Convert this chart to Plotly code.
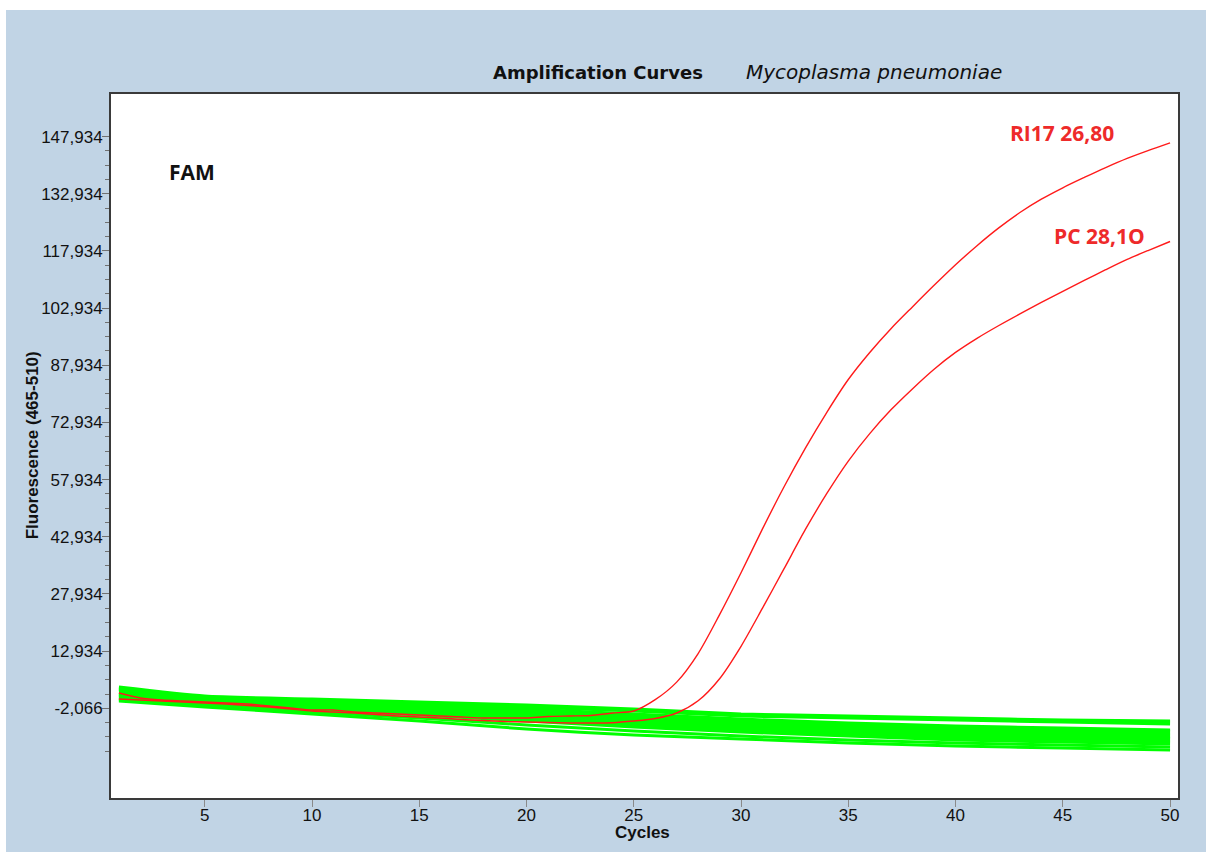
import plotly.graph_objects as go

# ---------------- data ----------------
cycles = list(range(1, 51))

ri17_values = [1950, 640, 110, -150, -410, -680, -940, -1460, -1990, -2510,
               -2510, -3040, -3300, -3560, -3820, -4090, -4350, -4610, -4610, -4610,
               -4220, -4090, -3960, -3300, -2770, 200, 4800, 12300, 22500, 33500,
               45000, 56000, 66200, 75600, 84200, 91300, 97600, 103300, 108900, 114300,
               119300, 123900, 128000, 131500, 134500, 137200, 139800, 142200, 144300, 146300]

pc_values = [370, 110, -150, -410, -680, -940, -1330, -1730, -2250, -2770,
             -3040, -3300, -3690, -4090, -4350, -4610, -5010, -5270, -5530, -5660,
             -5790, -5920, -5920, -5850, -5400, -4740, -3300, -100, 5700, 14200,
             24200, 34490, 44850, 54300, 62800, 70000, 76300, 81800, 86900, 91300,
             95000, 98300, 101400, 104400, 107300, 110200, 113000, 115700, 118100, 120400]

# negative samples (green), read at these cycles
neg_cycles = [1, 5, 10, 15, 20, 25, 30, 35, 40, 45, 50]
neg_g01 = [3520, 1160, 370, -410, -1200, -2250, -3560, -4090, -4610, -5140, -5400]
neg_g02 = [3260, 900, 110, -680, -1460, -2510, -3820, -4350, -4870, -5400, -5660]
neg_g03 = [3000, 900, 110, -940, -1730, -2770, -4090, -4610, -5140, -5660, -6190]
neg_g04 = [2740, 640, -150, -1200, -2250, -3560, -4870, -5920, -6710, -7240, -7760]
neg_g05 = [2210, 640, -410, -1460, -2510, -3820, -5140, -6190, -6970, -7500, -8020]
neg_g06 = [1950, 370, -680, -1730, -2770, -4090, -5400, -6450, -7240, -7760, -8290]
neg_g07 = [1690, 370, -940, -1990, -3300, -4610, -5920, -6970, -7760, -8290, -8810]
neg_g08 = [1420, 110, -1200, -2250, -3560, -4870, -6190, -7240, -8020, -8550, -9070]
neg_g09 = [1420, 110, -1200, -2510, -3820, -5140, -6450, -7500, -8290, -9070, -9600]
neg_g10 = [1160, -150, -1460, -2770, -4090, -5660, -6970, -8020, -8810, -9330, -9860]
neg_g11 = [900, -410, -1730, -3040, -4350, -5920, -7240, -8290, -9070, -9600, -10120]
neg_g12 = [640, -680, -1990, -3300, -4610, -6190, -7500, -8550, -9330, -10120, -10650]
neg_g13 = [370, -940, -2250, -3560, -4870, -6450, -7760, -8810, -9860, -10380, -10910]
neg_g14 = [370, -940, -2510, -3820, -5400, -6970, -8290, -9330, -10380, -10910, -11430]
neg_g15 = [110, -1460, -3040, -4610, -6450, -8020, -9330, -10380, -11170, -11700, -12220]
neg_g16 = [-150, -1730, -3560, -5400, -7500, -9070, -10120, -11170, -11960, -12480, -13010]
negatives = [neg_g01, neg_g02, neg_g03, neg_g04, neg_g05, neg_g06, neg_g07, neg_g08,
             neg_g09, neg_g10, neg_g11, neg_g12, neg_g13, neg_g14, neg_g15, neg_g16]

x_tick_values = [5, 10, 15, 20, 25, 30, 35, 40, 45, 50]
y_tick_values = [-2066, 12934, 27934, 42934, 57934, 72934, 87934, 102934, 117934, 132934, 147934]
y_tick_labels = ["-2,066", "12,934", "27,934", "42,934", "57,934", "72,934", "87,934",
                 "102,934", "117,934", "132,934", "147,934"]

# ---------------- figure ----------------
BLUE = "#C1D4E5"
fig = go.Figure()

for series in negatives:
    fig.add_trace(go.Scatter(x=neg_cycles, y=series, mode="lines",
                             line=dict(color="#00FF00", width=3, shape="spline", smoothing=0.6),
                             showlegend=False, hoverinfo="skip"))

fig.add_trace(go.Scatter(x=cycles, y=pc_values, mode="lines", name="PC",
                         line=dict(color="#FF1A1A", width=1.4, shape="spline", smoothing=0.8),
                         showlegend=False))
fig.add_trace(go.Scatter(x=cycles, y=ri17_values, mode="lines", name="RI17",
                         line=dict(color="#FF1A1A", width=1.4, shape="spline", smoothing=0.8),
                         showlegend=False))

step = (y_tick_values[1] - y_tick_values[0]) / 4
minor_vals = [y_tick_values[0] - k * step for k in (1, 2, 3)]
for tv in y_tick_values[:-1]:
    minor_vals += [tv + k * step for k in (1, 2, 3)]

fig.update_layout(
    width=1206, height=852, autosize=False,
    margin=dict(l=111, r=28, t=94, b=54),
    paper_bgcolor=BLUE, plot_bgcolor="white",
    font=dict(family="Liberation Sans, Arial, sans-serif", color="#111111"),
    xaxis=dict(range=[0.63, 50.37], tickmode="array", tickvals=x_tick_values,
               ticks="outside", ticklen=7, tickcolor="#8a8a8a", tickwidth=1,
               ticklabelstandoff=-6,
               showgrid=False, zeroline=False, showline=True, mirror=True,
               linecolor="#3a3a3a", linewidth=2,
               tickfont=dict(size=17, color="#111111")),
    yaxis=dict(range=[-25600, 159100], tickmode="array", tickvals=y_tick_values,
               ticktext=y_tick_labels, ticks="outside", ticklen=7, tickcolor="#707070",
               tickwidth=1, ticklabelstandoff=-4,
               showgrid=False, zeroline=False, showline=True, mirror=True,
               linecolor="#3a3a3a", linewidth=2,
               minor=dict(tickmode="array", tickvals=minor_vals, ticks="outside",
                          ticklen=4, tickcolor="#707070", showgrid=False),
               tickfont=dict(size=17, color="#111111")),
    shapes=[
        dict(type="rect", xref="paper", yref="paper", x0=-0.2, x1=-0.0984, y0=-0.2, y1=1.3,
             fillcolor="white", line=dict(width=0), layer="below"),
        dict(type="rect", xref="paper", yref="paper", x0=-0.2, x1=1.2, y0=1.1193, y1=1.3,
             fillcolor="white", line=dict(width=0), layer="below"),
    ],
    annotations=[
        dict(text="<b>Amplification Curves</b>", xref="paper", yref="paper",
             x=0.456, y=1.031, showarrow=False, xanchor="center", yanchor="middle",
             font=dict(family="DejaVu Sans", size=18, color="#111111")),
        dict(text="<i>Mycoplasma pneumoniae</i>", xref="paper", yref="paper",
             x=0.715, y=1.031, showarrow=False, xanchor="center", yanchor="middle",
             font=dict(family="DejaVu Sans", size=20, color="#111111")),
        dict(text="<b>FAM</b>", xref="paper", yref="paper", x=0.076, y=0.889,
             showarrow=False, xanchor="center", yanchor="middle",
             font=dict(family="Open Sans", size=21, color="#111111")),
        dict(text="<b>RI17 26,80</b>", xref="paper", yref="paper", x=0.891, y=0.945,
             showarrow=False, xanchor="center", yanchor="middle",
             font=dict(family="Open Sans", size=21, color="#EE2A2A")),
        dict(text="<b>PC 28,1O</b>", xref="paper", yref="paper", x=0.926, y=0.798,
             showarrow=False, xanchor="center", yanchor="middle",
             font=dict(family="Open Sans", size=21, color="#EE2A2A")),
        dict(text="<b>Fluorescence (465-510)</b>", xref="paper", yref="paper",
             x=-0.074, y=0.501, textangle=-90, showarrow=False,
             xanchor="center", yanchor="middle",
             font=dict(family="Liberation Sans, Arial", size=17, color="#111111")),
        dict(text="<b>Cycles</b>", xref="paper", yref="paper", x=0.4977, y=-0.0497,
             showarrow=False, xanchor="center", yanchor="middle",
             font=dict(family="Liberation Sans, Arial", size=17, color="#111111")),
    ],
)

fig.write_html("out.html", config={"displayModeBar": False},
               post_script="document.body.style.margin='0px';")
